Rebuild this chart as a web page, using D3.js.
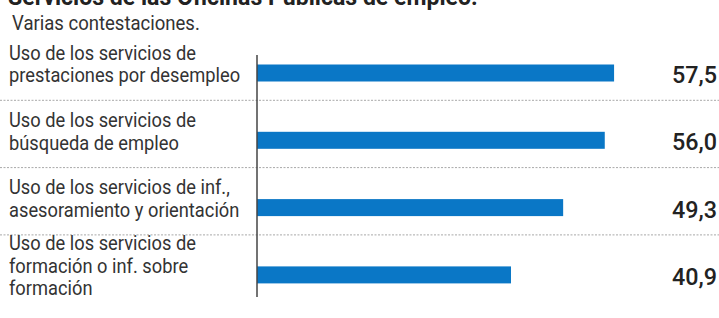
<!DOCTYPE html>
<html><head><meta charset="utf-8">
<script src="https://cdn.jsdelivr.net/npm/d3@7"></script>
<style>
html,body{margin:0;padding:0;background:#fff;}
svg{display:block;}
</style></head>
<body>
<svg id="chart" width="719" height="318"></svg>
<script>
const title = "Servicios de las Oficinas Públicas de empleo.";
const subtitle = "Varias contestaciones.";
const categories = [
  ["Uso de los servicios de", "prestaciones por desempleo"],
  ["Uso de los servicios de", "búsqueda de empleo"],
  ["Uso de los servicios de inf.,", "asesoramiento y orientación"],
  ["Uso de los servicios de", "formación o inf. sobre", "formación"]
];
const values = [57.5, 56.0, 49.3, 40.9];
const valueLabels = ["57,5", "56,0", "49,3", "40,9"];

const fam = "Roboto,'Liberation Sans',sans-serif";
const svg = d3.select("#chart");
const W = 719;

const ids = categories.map((c,i)=>i);
const y = d3.scaleBand().domain(ids).range([33, 33 + 4*67.3]).padding(0);
const x = d3.scaleLinear().domain([0, 60]).range([257, 257 + 60*6.21]);

function fitScale(sample, size, weight, target){
  const t = svg.append("text").attr("font-family", fam).attr("font-size", size)
    .attr("font-weight", weight).text(sample);
  const w = t.node().getComputedTextLength();
  t.remove();
  return target / w;
}
const sLabel = fitScale("Uso de los servicios de", 21, 400, 187);
const sSub = fitScale(subtitle, 20, 400, 188);
const sTitle = fitScale(title, 24, 700, 470);
const sVal = fitScale("56,0", 23, 500, 45);

svg.append("text").attr("font-family", fam).attr("font-size", 24).attr("font-weight", 700)
  .attr("fill", "#222").attr("transform", `translate(8,5) scale(${sTitle},1)`).text(title);
svg.append("text").attr("font-family", fam).attr("font-size", 20)
  .attr("fill", "#333").attr("transform", `translate(12,30) scale(${sSub},1)`).text(subtitle);

svg.append("g").selectAll("line").data(ids.slice(0, -1)).join("line")
  .attr("x1", 0).attr("x2", W)
  .attr("y1", d => y(d) + y.bandwidth()).attr("y2", d => y(d) + y.bandwidth())
  .attr("stroke", "#a8a8a8").attr("stroke-width", 1).attr("stroke-dasharray", "2,1.5");

svg.append("g").selectAll("rect").data(ids).join("rect")
  .attr("x", x(0)).attr("y", d => y(d) + 31.5)
  .attr("width", d => x(values[d]) - x(0)).attr("height", 17)
  .attr("fill", "#0a77c6");

svg.append("line").attr("x1", x(0)).attr("x2", x(0)).attr("y1", 55).attr("y2", 297)
  .attr("stroke", "#444").attr("stroke-width", 1.5);

const lh = 22.5;
ids.forEach(i => {
  const c = y(i) + 40;
  const lines = categories[i];
  const first = c - 2 - (lines.length - 1) * lh / 2;
  lines.forEach((ln, j) => {
    svg.append("text").attr("font-family", fam).attr("font-size", 21).attr("fill", "#333")
      .attr("transform", `translate(9,${first + j*lh}) scale(${sLabel},1)`).text(ln);
  });
});

svg.append("g").selectAll("text").data(ids).join("text")
  .attr("font-family", fam).attr("font-size", 23).attr("font-weight", 500).attr("fill", "#222")
  .attr("text-anchor", "end")
  .attr("transform", d => `translate(717,${y(d) + 50}) scale(${sVal},1)`)
  .text(d => valueLabels[d]);
</script>
</body></html>
